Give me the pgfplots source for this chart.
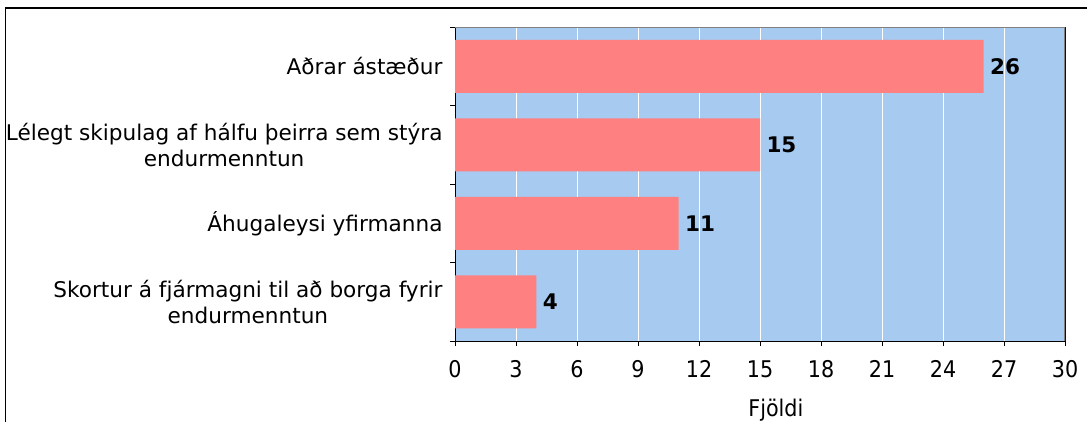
\documentclass[border=0pt]{standalone}
\usepackage{fontspec}
\setmainfont{DejaVu Sans}
\newfontfamily\condfont{DejaVuSansCondensed.ttf}
\usepackage{pgfplots}
\pgfplotsset{compat=1.18}
\definecolor{bgblue}{HTML}{A6CAF0}
\definecolor{barred}{HTML}{FF8080}
\begin{document}
\begin{tikzpicture}[x=1bp,y=1bp]
\useasboundingbox (0,0) rectangle (1087,422);
\draw[line width=1.5bp] (5.5,0) -- (5.5,414) -- (1087,414);
\begin{axis}[
  at={(455bp,81bp)}, anchor=south west,
  scale only axis, width=610bp, height=314bp,
  xbar, bar width=53bp,
  xmin=0, xmax=30, ymin=-0.5, ymax=3.5,
  xtick={0,3,...,30},
  ytick={-0.5,0.5,1.5,2.5,3.5},
  y tick label as interval,
  yticklabels={{Skortur á fjármagni til að borga fyrir\\endurmenntun},{Áhugaleysi yfirmanna},{Lélegt skipulag af hálfu þeirra sem stýra\\endurmenntun},{Aðrar ástæður}},
  xmajorgrids, ymajorgrids=false,
  major grid style={white, line width=1bp},
  axis background/.style={fill=bgblue},
  tick align=outside, major tick length=5bp,
  xtick pos=lower, ytick pos=left,
  axis line style={black, line width=1bp},
  tick style={black, line width=1bp},
  /pgf/number format/assume math mode=true,
  xticklabel style={font=\condfont\fontsize{23bp}{27bp}\selectfont, yshift=-11bp},
  yticklabel style={font=\fontsize{21.6bp}{26bp}\selectfont, align=center, xshift=-4bp},
  xlabel={Fjöldi},
  xlabel style={font=\condfont\fontsize{23bp}{27bp}\selectfont, at={(rel axis cs:0.526,0)}, anchor=center, yshift=-69bp},
  nodes near coords,
  nodes near coords style={font=\bfseries\fontsize{21.5bp}{25bp}\selectfont, anchor=west, black, xshift=3bp},
]
\addplot[fill=barred, draw=none] coordinates {(4,0) (11,1) (15,2) (26,3)};
\draw[gray, line width=1.5bp] (rel axis cs:0,1) -- (rel axis cs:1,1) -- (rel axis cs:1,0);
\end{axis}
\end{tikzpicture}
\end{document}
